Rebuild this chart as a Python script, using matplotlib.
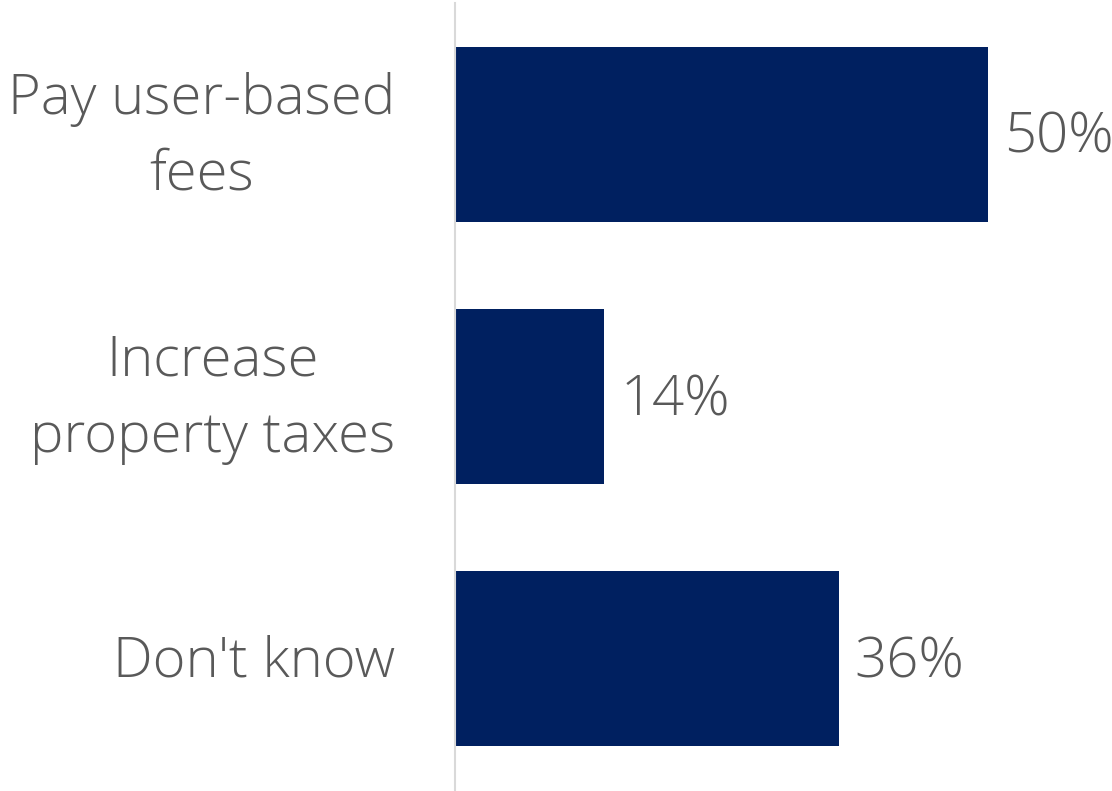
import matplotlib
matplotlib.use("Agg")
import matplotlib.pyplot as plt

categories = ["Pay user-based\nfees", "Increase\nproperty taxes", "Don't know"]
values = [50, 14, 36]
value_labels = ["50%", "14%", "36%"]

BAR = "#002060"
TXT = "#595959"
FONT = "Open Sans"
WEIGHT = "light"

W, H = 1112, 791
fig = plt.figure(figsize=(W / 100, H / 100), dpi=100)
ax = fig.add_axes([455 / W, 1 / H, (W - 455) / W, 787 / H])

y = list(range(len(categories)))
ax.barh(y, values, height=0.667, color=BAR)
ax.set_ylim(len(categories) - 0.5, -0.5)
ax.set_xlim(0, (W - 455) / 10.66)

for i, (v, lab) in enumerate(zip(values, value_labels)):
    ax.annotate(lab, (v, i), xytext=(16, -4), textcoords="offset pixels",
                ha="left", va="center", fontsize=40.5, color=TXT, family=FONT,
                fontweight=WEIGHT)

for i, cat in enumerate(categories):
    ax.annotate(cat, xy=(0, i), xycoords=("axes fraction", "data"),
                xytext=(-60, -3), textcoords="offset pixels",
                ha="right", va="center", multialignment="center",
                fontsize=40.5, color=TXT, family=FONT, fontweight=WEIGHT,
                linespacing=1.5, annotation_clip=False)

ax.set_yticks([])
ax.set_xticks([])

for s in ["top", "right", "bottom"]:
    ax.spines[s].set_visible(False)
ax.spines["left"].set_color("#d9d9d9")
ax.spines["left"].set_linewidth(1.5)

fig.savefig("out.png", dpi=100)
